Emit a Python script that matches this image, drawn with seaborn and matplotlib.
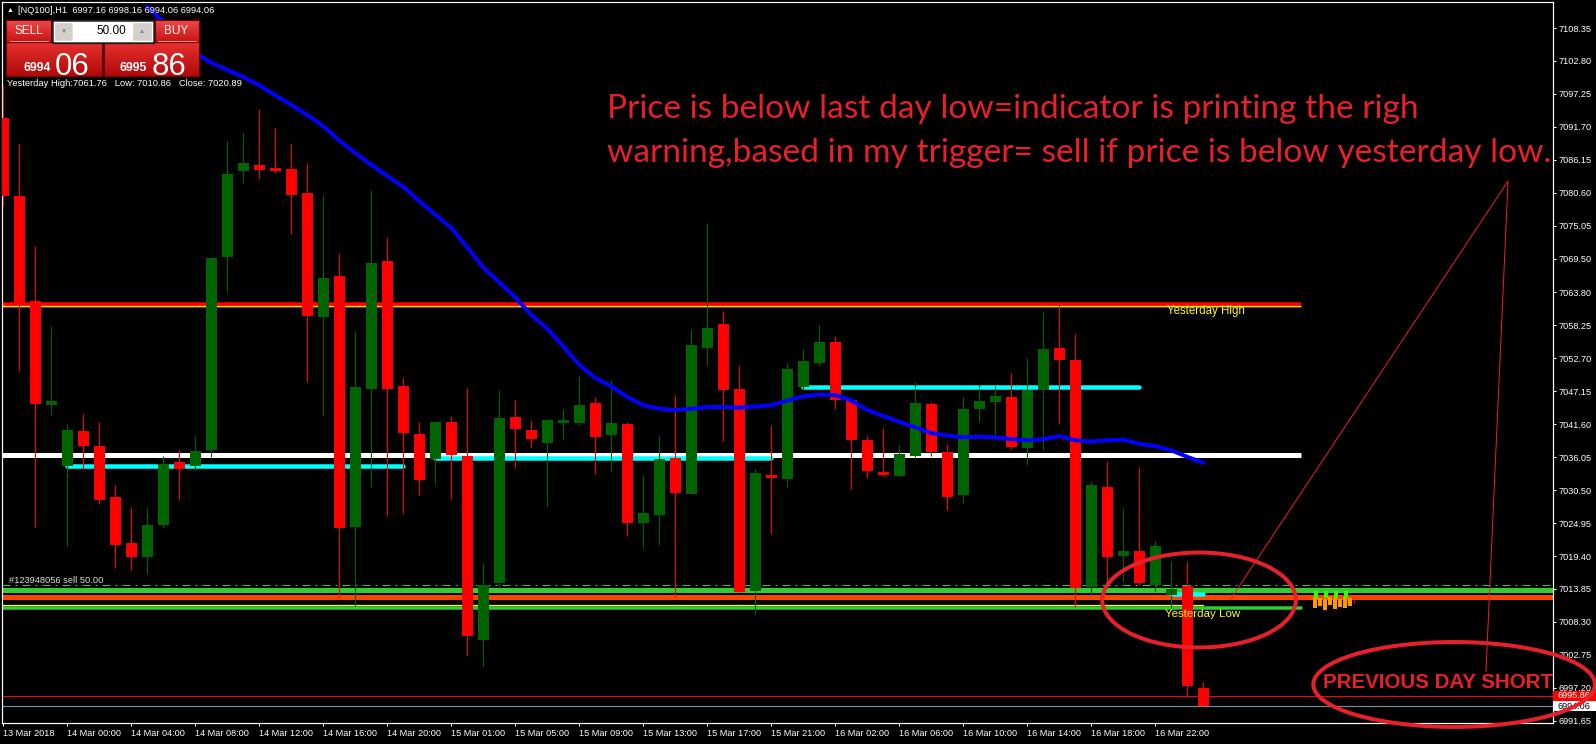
import matplotlib
matplotlib.use("Agg")
import matplotlib.pyplot as plt
import matplotlib.transforms as mtransforms
from matplotlib.patches import Rectangle, Ellipse
from matplotlib.colors import LinearSegmentedColormap
import seaborn as sns
import numpy as np
import pandas as pd

sns.set_style("dark", {"axes.facecolor": "black", "figure.facecolor": "black"})
plt.rcParams["font.family"] = ["Liberation Sans", "DejaVu Sans"]

W, H = 1596, 744
PX = 0.72  # points per pixel at dpi 100

# ---- data (NQ100, H1) ----
opens = [7093.2, 7080.1, 7062.4, 7044.8, 7034.5, 7040.4, 7037.9, 7029.3, 7021.6, 7019.3,
         7024.6, 7035.2, 7034.6, 7037.2, 7069.7, 7084.2, 7085.2, 7084.8, 7084.6, 7080.6,
         7059.7, 7066.6, 7024.3, 7047.6, 7069.1, 7048.0, 7039.9, 7035.8, 7042.0, 7036.2,
         7005.3, 7014.8, 7042.8, 7040.6, 7038.4, 7041.8, 7041.8, 7045.2, 7039.8, 7041.6,
         7024.9, 7026.3, 7035.9, 7029.9, 7054.5, 7058.5, 7047.5, 7013.5, 7033.0, 7032.4,
         7047.9, 7052.0, 7055.5, 7045.6, 7038.9, 7033.5, 7032.9, 7036.3, 7045.0, 7036.9,
         7029.6, 7044.1, 7045.4, 7046.2, 7037.6, 7047.3, 7054.4, 7052.4, 7014.2, 7031.1,
         7019.4, 7020.3, 7014.5, 7012.9, 7014.4, 6997.16]
highs = [7099.0, 7088.9, 7071.6, 7058.2, 7041.6, 7043.3, 7042.0, 7031.3, 7027.6, 7027.5,
         7036.2, 7037.2, 7039.7, 7069.7, 7089.3, 7090.7, 7094.7, 7091.5, 7089.0, 7085.6,
         7080.2, 7070.4, 7057.3, 7081.0, 7073.1, 7049.4, 7042.0, 7042.2, 7043.0, 7047.7,
         7018.2, 7047.3, 7045.6, 7042.1, 7042.3, 7044.1, 7049.7, 7046.2, 7049.0, 7041.9,
         7033.0, 7039.6, 7046.5, 7057.6, 7075.5, 7060.7, 7051.6, 7034.0, 7041.4, 7051.9,
         7054.2, 7058.3, 7056.5, 7045.6, 7039.7, 7041.0, 7038.1, 7048.7, 7045.4, 7038.3,
         7046.2, 7048.3, 7048.0, 7050.2, 7052.7, 7060.7, 7061.8, 7056.8, 7032.0, 7035.4,
         7027.5, 7034.4, 7021.9, 7018.6, 7018.4, 6998.16]
lows = [7078.3, 7050.5, 7024.3, 7043.1, 7021.1, 7033.9, 7028.2, 7017.3, 7017.1, 7016.4,
        7024.2, 7028.9, 7033.9, 7036.0, 7063.8, 7082.3, 7082.9, 7083.9, 7073.7, 7048.7,
        7043.1, 7012.4, 7011.0, 7031.0, 7026.2, 7026.5, 7029.6, 7031.5, 7029.0, 7002.6,
        7000.9, 7014.2, 7034.2, 7037.6, 7027.9, 7039.0, 7041.4, 7033.2, 7033.6, 7022.8,
        7020.8, 7021.3, 7012.5, 7029.8, 7051.6, 7038.8, 7013.1, 7009.4, 7023.1, 7030.9,
        7047.3, 7051.4, 7044.1, 7030.7, 7032.6, 7032.8, 7032.9, 7036.1, 7036.2, 7027.2,
        7028.4, 7042.0, 7039.9, 7037.4, 7034.8, 7037.3, 7041.7, 7010.8, 7012.8, 7014.0,
        7015.0, 7014.6, 7013.5, 7010.6, 6995.6, 6994.06]
closes = [7080.1, 7062.0, 7045.0, 7045.5, 7040.6, 7038.0, 7028.9, 7021.3, 7019.3, 7024.6,
          7034.9, 7034.1, 7037.1, 7069.6, 7083.8, 7085.6, 7084.5, 7084.3, 7080.2, 7059.9,
          7066.2, 7024.2, 7047.9, 7068.7, 7047.6, 7040.1, 7032.2, 7042.0, 7036.5, 7006.0,
          7014.5, 7042.7, 7040.8, 7039.1, 7042.3, 7042.3, 7044.8, 7039.5, 7041.8, 7025.0,
          7026.6, 7035.8, 7030.1, 7054.9, 7057.8, 7047.3, 7013.4, 7033.4, 7032.6, 7050.9,
          7052.3, 7055.5, 7045.6, 7039.0, 7033.8, 7033.1, 7036.6, 7045.2, 7037.0, 7029.4,
          7044.1, 7045.5, 7046.3, 7037.8, 7047.3, 7054.2, 7052.5, 7014.0, 7031.3, 7019.2,
          7020.2, 7014.9, 7021.1, 7013.9, 6997.5, 6994.06]

ma_first_bar = 9
ma_values = [7112.0, 7109.4, 7106.7, 7104.1, 7102.5, 7101.3, 7100.1, 7098.7, 7097.0, 7095.4,
             7093.7, 7091.8, 7089.4, 7087.3, 7085.3, 7083.4, 7081.6, 7079.2, 7076.9, 7074.7,
             7071.4, 7068.0, 7065.5, 7063.0, 7060.0, 7057.7, 7054.7, 7051.6, 7049.4, 7048.0,
             7046.2, 7044.8, 7044.2, 7044.0, 7044.2, 7044.5, 7044.5, 7044.4, 7044.6, 7044.8,
             7045.6, 7046.3, 7046.6, 7046.5, 7045.6, 7044.0, 7043.0, 7042.0, 7041.1, 7040.1,
             7039.7, 7039.4, 7039.5, 7039.4, 7039.1, 7038.9, 7039.1, 7039.6, 7038.9, 7038.7,
             7038.9, 7039.0, 7038.3, 7037.9, 7037.2, 7036.1, 7035.1]

price_labels = ["7108.35", "7102.80", "7097.25", "7091.70", "7086.15", "7080.60", "7075.05",
                "7069.50", "7063.80", "7058.25", "7052.70", "7047.15", "7041.60", "7036.05",
                "7030.50", "7024.95", "7019.40", "7013.85", "7008.30", "7002.75", "6997.20",
                "6991.65"]
time_labels = ["13 Mar 2018", "14 Mar 00:00", "14 Mar 04:00", "14 Mar 08:00", "14 Mar 12:00",
               "14 Mar 16:00", "14 Mar 20:00", "15 Mar 01:00", "15 Mar 05:00", "15 Mar 09:00",
               "15 Mar 13:00", "15 Mar 17:00", "15 Mar 21:00", "16 Mar 02:00", "16 Mar 06:00",
               "16 Mar 10:00", "16 Mar 14:00", "16 Mar 18:00", "16 Mar 22:00"]

yest_high, yest_low, yest_close = 7061.76, 7010.86, 7020.89
bid, ask = 6994.06, 6995.86
lot = 50.00
order_ticket = 123948056
white_level = 7036.36
order_level = 7014.5
green_level = 7013.6
orange_level = 7012.55
# cyan segments: (first bar, last bar, price)
cyan_segments = [(4, 25, 7034.5), (27, 48, 7035.95), (50, 71, 7047.9), (73, 75, 7013.0)]

# ---- figure ----
candles = pd.DataFrame({"open": opens, "high": highs, "low": lows, "close": closes})
candles["bar"] = np.arange(len(candles))
candles["up"] = candles["close"] >= candles["open"]

fig = plt.figure(figsize=(W / 100, H / 100), dpi=100)
fig.patch.set_facecolor("black")
ax = fig.add_axes([2 / W, 21 / H, 1551 / W, 721 / H])
ax.set_facecolor("black")
ax.set_xlim(-0.08, 96.85)
ax.set_ylim(6991.27, 7112.73)
x0 = ax.get_xlim()[0]
lvl_end = 81.1

# level lines
ax.hlines(yest_high, x0, lvl_end, color="#ff0000", lw=5.5 * PX, zorder=2)
ax.hlines(yest_high - 0.2, x0, lvl_end, color="#ffff00", lw=1.2 * PX, zorder=2.1)
ax.hlines(white_level, x0, lvl_end, color="white", lw=5 * PX, zorder=2)
for a, b, p in cyan_segments:
    ax.plot([a, b], [p, p], color="#00ffff", lw=4.5 * PX, solid_capstyle="round", zorder=2.2)
ax.axhline(order_level, color="#32cd32", lw=1 * PX, ls=(0, (8, 5, 2, 5)), zorder=2)
ax.axhline(green_level, color="#32cd32", lw=5 * PX, zorder=2)
ax.axhline(orange_level, color="#ff4500", lw=5 * PX, zorder=2)
ax.plot([x0, lvl_end], [yest_low - 0.2] * 2, color="#32cd32", lw=3.5 * PX,
        solid_capstyle="round", zorder=2)
ax.plot([x0, 75], [yest_low + 0.3] * 2, color="#ffff00", lw=1.2 * PX, zorder=2.1)
ax.axhline(ask, color="#ff0000", lw=1 * PX, zorder=2)
ax.axhline(bid, color="#778899", lw=1.2 * PX, zorder=2)

# candles
cols = np.where(candles["up"], "#006400", "#ff0000")
body_low = np.minimum(candles["open"], candles["close"])
body_h = np.maximum((candles["close"] - candles["open"]).abs(), 0.25)
ax.vlines(candles["bar"], candles["low"], candles["high"], colors=cols, lw=1.1 * PX, zorder=3)
ax.bar(candles["bar"], body_h, bottom=body_low, width=0.69, color=cols, lw=0, zorder=3.5)

# moving average
ma_bars = np.arange(ma_first_bar, ma_first_bar + len(ma_values))
sns.lineplot(x=ma_bars, y=ma_values, ax=ax, color="#0000ff", linewidth=4 * PX,
             zorder=5, legend=False)

# axes styling
for s in ax.spines.values():
    s.set_visible(True)
    s.set_color("white")
    s.set_linewidth(1.2 * PX)
ax.set_xticks(np.arange(0, 4 * len(time_labels), 4))
ax.set_xticklabels(time_labels, ha="left")
ax.yaxis.tick_right()
ax.set_yticks([float(v) for v in price_labels])
ax.set_yticklabels(price_labels)
ax.tick_params(axis="both", colors="white", labelcolor="white", labelsize=6.6,
               length=3 * PX, width=1 * PX, direction="out", pad=2.5 * PX,
               bottom=True, right=True, left=False, top=False)
ax.grid(False)
ax.set_xlabel("")
ax.set_ylabel("")


def fit(t, width):
    r = fig.canvas.get_renderer()
    w = t.get_window_extent(renderer=r).width
    t.set_fontsize(t.get_fontsize() * width / w)
    return t


# price tags on the right scale
trans = mtransforms.blended_transform_factory(ax.transAxes, ax.transData)
for price, face, tc in [(ask, "#ff0000", "white"), (bid, "white", "black")]:
    ax.add_patch(Rectangle((1.0, price - 0.84), 43 / 1551, 1.68, transform=trans,
                           facecolor=face, lw=0, clip_on=False, zorder=6))
    ax.text(1.0 + 4 / 1551, price, f"{price:.2f}", transform=trans, color=tc, fontsize=6.6,
            va="center", ha="left", clip_on=False, zorder=7)

# chart labels
fit(ax.text(72.7, 7060.2, "Yesterday High", color="#ffff00", fontsize=7, va="baseline",
            zorder=6), 78)
fit(ax.text(72.6, 7009.1, "Yesterday Low", color="#ffff00", fontsize=7, va="baseline",
            zorder=6), 75)
fit(ax.text(0.36, 7014.9, f"#{order_ticket} sell {lot:.2f}", color="#dcdcdc", fontsize=7,
            va="baseline", zorder=6), 93)

# hand-drawn annotations (ellipses and lines)
red_ink = "#e8202a"
ax.add_patch(Ellipse((74.73, 7011.99), 12.1, 16.0, fill=False, ec=red_ink, lw=4 * PX,
                     clip_on=False, zorder=8))
ax.add_patch(Ellipse((90.67, 6997.76), 17.6, 14.3, fill=False, ec=red_ink, lw=4 * PX,
                     clip_on=False, zorder=8))
ax.plot([76.67, 94.04, 92.66], [7011.99, 7082.57, 6999.86], color=red_ink, lw=1 * PX,
        clip_on=False, zorder=8)
fit(ax.text(82.48, 6997.17, "PREVIOUS DAY SHORT", color=red_ink, fontweight="bold",
            fontsize=16, va="baseline", zorder=7), 230)

# ---- overlay in pixel coordinates ----
ov = fig.add_axes([0, 0, 1, 1], zorder=10)
ov.axis("off")


def grad_box(x_a, y_a, x_b, y_b, top, bottom, edge="#7a0000"):
    cmap = LinearSegmentedColormap.from_list("g", [top, bottom])
    ov.imshow(np.linspace(0, 1, 32)[:, None], extent=(x_a, x_b, y_b, y_a), cmap=cmap,
              aspect="auto", zorder=1)
    ov.add_patch(Rectangle((x_a, y_a), x_b - x_a, y_b - y_a, fill=False, ec=edge,
                           lw=0.8, zorder=2))


grad_box(6, 20, 51, 42, "#f04848", "#c81414")
grad_box(155, 20, 199, 42, "#f04848", "#c81414")
grad_box(6, 42, 102, 76, "#e83030", "#b00a0a")
grad_box(104, 42, 199, 76, "#e83030", "#b00a0a")
ov.add_patch(Rectangle((52, 20), 102, 23, facecolor="#3a3a3a", ec="#202020", zorder=2))
ov.add_patch(Rectangle((54, 22), 19, 19, facecolor="#d4d0c8", zorder=3))
ov.add_patch(Rectangle((73, 22), 59, 19, facecolor="white", zorder=3))
ov.add_patch(Rectangle((132, 22), 20, 19, facecolor="#d4d0c8", zorder=3))
ov.text(63.5, 31.5, "▼", color="#6a7fb0", fontsize=4.5, ha="center", va="center", zorder=4)
ov.text(142, 31.5, "▲", color="#6a7fb0", fontsize=4.5, ha="center", va="center", zorder=4)
ov.text(126, 31, f"{lot:.2f}", color="black", fontsize=8.5, ha="right", va="center", zorder=4)
ov.plot([10, 48], [41, 41], color="#f4a0a0", lw=0.7, zorder=4)
ov.plot([158, 196], [41, 41], color="#f4a0a0", lw=0.7, zorder=4)
ov.text(28.5, 30.5, "SELL", color="white", fontsize=8.5, ha="center", va="center", zorder=4)
ov.text(176, 30.5, "BUY", color="white", fontsize=8.5, ha="center", va="center", zorder=4)

for price, xs, xb in [(bid, 23, 55), (ask, 120, 152)]:
    s = f"{price:.2f}"
    ov.text(xs, 71, s[:4], color="white", fontsize=8.8, fontweight="bold", va="baseline",
            zorder=4)
    ov.text(xb, 75, s[-2:], color="white", fontsize=22.5, va="baseline", zorder=4)

ov.text(7, 10.5, "▲", color="white", fontsize=5, va="center", zorder=4)
head = "[NQ100],H1  " + " ".join(f"{v:.2f}" for v in [opens[-1], highs[-1], lows[-1], closes[-1]])
fit(ov.text(18, 10.5, head, color="white", fontsize=7, va="center", zorder=4), 198)
info = f"Yesterday High:{yest_high:.2f}   Low: {yest_low:.2f}   Close: {yest_close:.2f}"
fit(ov.text(7, 83.5, info, color="white", fontsize=7, va="center", zorder=4), 236)

# garbled daily-open marker
for i, xo in enumerate(range(1313, 1350, 5)):
    ov.add_patch(Rectangle((xo, 597 + (i % 3)), 3.5, 11 - (i % 2) * 3, facecolor="#ff9900",
                           lw=0, zorder=3))
    if i % 2 == 0:
        ov.add_patch(Rectangle((xo + 1, 591), 4, 7, facecolor="#33ff00", lw=0, zorder=3))
ov.text(1346, 601, "en", color="#ff2020", fontsize=7, va="center", zorder=2)

# big annotation text
big1 = "Price is below last day low=indicator is printing the righ"
big2 = "warning,based in my trigger= sell if price is below yesterday low."
t2 = ov.text(607, 162, big2, color=red_ink, family="Lato", fontsize=20, va="baseline", zorder=4)
fit(t2, 945)
ov.text(607, 118, big1, color=red_ink, family="Lato", fontsize=t2.get_fontsize(),
        va="baseline", zorder=4)

ov.set_xlim(0, W)
ov.set_ylim(H, 0)

fig.savefig("out.png", dpi=100, facecolor="black")
